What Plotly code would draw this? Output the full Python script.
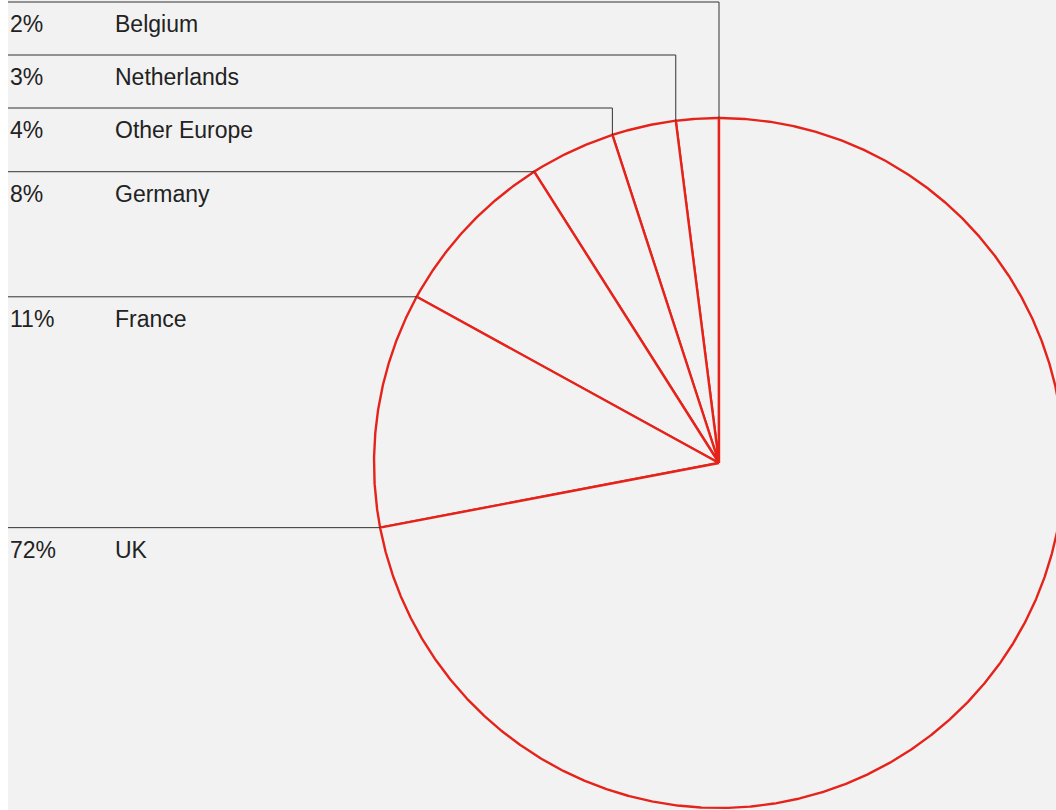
import numpy as np
import plotly.graph_objects as go

# Market share by region, listed counter-clockwise from 12 o'clock
regions = ["Belgium", "Netherlands", "Other Europe", "Germany", "France", "UK"]
shares = [2, 3, 4, 8, 11, 72]
share_labels = ["2%", "3%", "4%", "8%", "11%", "72%"]

# Layout (pixel units, y grows downward)
W, H = 1056, 810
LEFT = 8
CX, CY, R = 719, 463, 345
# Elbow rows for the crowded small slices; others run straight to their edge
stacked_rows = [2, 55, 108]
PCT_X, NAME_X = LEFT, 113
RED = "#e5231b"
INK = "#222222"

fig = go.Figure()

fractions = np.array(shares, dtype=float) / sum(shares)
starts = np.concatenate([[0.0], np.cumsum(fractions)[:-1]])


def angle(frac):
    # counter-clockwise from the top
    return np.deg2rad(90 + 360 * frac)


# Pie wedges drawn as closed outlines
for s, f in zip(starts, fractions):
    th = angle(np.linspace(s, s + f, max(int(f * 1500), 6)))
    xs = np.concatenate([[CX], CX + R * np.cos(th), [CX]])
    ys = np.concatenate([[CY], CY - R * np.sin(th), [CY]])
    fig.add_trace(go.Scatter(
        x=xs, y=ys, mode="lines", fill="toself", fillcolor="#f2f2f2",
        line=dict(color=RED, width=2.4), hoverinfo="skip", showlegend=False,
    ))

# Leader lines and labels
for i, (name, lab, s) in enumerate(zip(regions, share_labels, starts)):
    th = angle(s)
    ex, ey = CX + R * np.cos(th), CY - R * np.sin(th)
    row = stacked_rows[i] if i < len(stacked_rows) else ey
    fig.add_trace(go.Scatter(
        x=[LEFT, ex, ex], y=[row, row, ey], mode="lines",
        line=dict(color="#333333", width=1), hoverinfo="skip", showlegend=False,
    ))
    for tx, txt in ((PCT_X, lab), (NAME_X, name)):
        fig.add_annotation(
            x=tx, y=row + 22, text=txt, showarrow=False,
            xanchor="left", yanchor="middle", xref="x", yref="y",
            font=dict(family="Liberation Sans, Arial, sans-serif", size=23, color=INK),
        )

fig.update_xaxes(range=[LEFT, W], visible=False, fixedrange=True)
fig.update_yaxes(range=[H, 0], visible=False, fixedrange=True)
fig.update_layout(
    width=W, height=H,
    margin=dict(l=LEFT, r=0, t=0, b=0),
    paper_bgcolor="white", plot_bgcolor="#f2f2f2",
)

fig.write_html("out.html")
